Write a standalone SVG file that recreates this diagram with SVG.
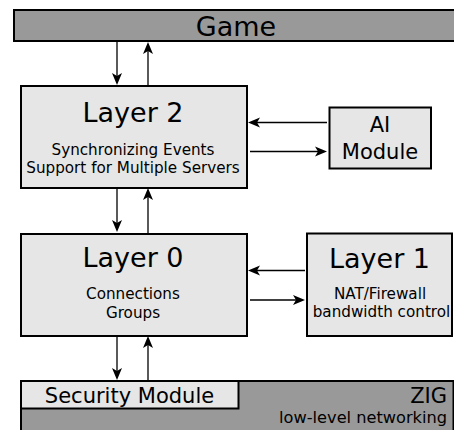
<svg xmlns="http://www.w3.org/2000/svg" width="454" height="430" viewBox="0 0 454 430">
<defs>
<marker id="ah" markerUnits="userSpaceOnUse" markerWidth="14" markerHeight="12" refX="3" refY="5" orient="auto" overflow="visible">
<path d="M0,0 L12,5 L0,10 L3,5 z" fill="#000"/>
</marker>
<style>
.bar{fill:#999999;stroke:#000;stroke-width:2}
.box{fill:#e6e6e6;stroke:#000;stroke-width:2}
.t{font-family:"DejaVu Sans","Liberation Sans",sans-serif;fill:#000;text-anchor:middle}
.big{font-size:27px}
.mid{font-size:21px}
.sm{font-size:15.2px}
.conn line{stroke:#000;stroke-width:1.3;marker-end:url(#ah)}
</style>
</defs>
<g id="game">
<rect class="bar" x="14" y="10" width="446" height="31"/>
<text class="t big" x="236" y="36">Game</text>
</g>
<g id="layer2">
<rect class="box" x="21" y="86" width="226" height="102"/>
<text class="t big" x="133" y="122">Layer 2</text>
<text class="t sm" x="133" y="155">Synchronizing Events</text>
<text class="t sm" x="133" y="172.5">Support for Multiple Servers</text>
</g>
<g id="ai">
<rect class="box" x="329.5" y="107.5" width="101.5" height="61"/>
<text class="t mid" x="380" y="132">AI</text>
<text class="t mid" x="380" y="158.5">Module</text>
</g>
<g id="layer0">
<rect class="box" x="21" y="234" width="226" height="102"/>
<text class="t big" x="133" y="267">Layer 0</text>
<text class="t sm" x="133" y="298.5">Connections</text>
<text class="t sm" x="133" y="317.5">Groups</text>
</g>
<g id="layer1">
<rect class="box" x="307" y="233.5" width="145" height="102.5"/>
<text class="t big" x="379.5" y="267.5">Layer 1</text>
<text class="t sm" x="380" y="299">NAT/Firewall</text>
<text class="t sm" x="381.5" y="316.8">bandwidth control</text>
</g>
<g id="zig">
<rect class="bar" x="21" y="381" width="432.5" height="52"/>
<text class="t mid" x="447" y="403" style="text-anchor:end">ZIG</text>
<text class="t" x="447" y="423.3" style="text-anchor:end;font-size:16.2px">low-level networking</text>
</g>
<g id="security">
<rect class="box" x="21" y="381" width="217.5" height="27.5"/>
<text class="t mid" x="129.5" y="402.7">Security Module</text>
</g>
<g id="connectors" class="conn">
<line x1="117" y1="42" x2="117" y2="76"/>
<line x1="148" y1="85" x2="148" y2="51"/>
<line x1="117" y1="189" x2="117" y2="223"/>
<line x1="148" y1="233" x2="148" y2="197"/>
<line x1="117" y1="337" x2="117" y2="371"/>
<line x1="148" y1="380" x2="148" y2="345"/>
<line x1="327" y1="122.5" x2="257" y2="122.5"/>
<line x1="250" y1="151.5" x2="318" y2="151.5"/>
<line x1="305" y1="270.5" x2="257" y2="270.5"/>
<line x1="250" y1="300" x2="296" y2="300"/>
</g>
</svg>
